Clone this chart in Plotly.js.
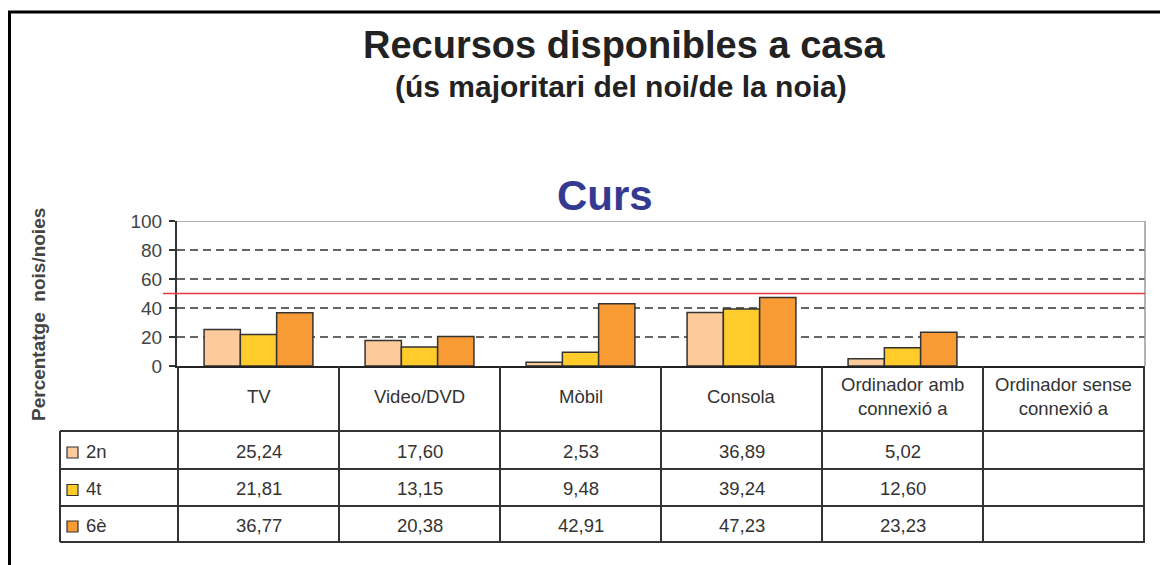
<!DOCTYPE html>
<html>
<head>
<meta charset="utf-8">
<script src="https://cdn.plot.ly/plotly-3.0.1.min.js"></script>
<style>
html,body{margin:0;padding:0;background:#fff;}
#chart{width:1160px;height:565px;}
</style>
</head>
<body>
<div id="chart"></div>
<script>
// ---- data ----
const categories = ["TV", "Video/DVD", "Mòbil", "Consola", "Ordinador amb<br>connexió a", "Ordinador sense<br>connexió a"];
const seriesNames = ["2n", "4t", "6è"];
const values2n = [25.24, 17.60, 2.53, 36.89, 5.02, null];
const values4t = [21.81, 13.15, 9.48, 39.24, 12.60, null];
const values6e = [36.77, 20.38, 42.91, 47.23, 23.23, null];
const yTicks = [0, 20, 40, 60, 80, 100];
const gridVals = [20, 40, 60, 80];
const refLine = 50;
const titleText = "Recursos disponibles a casa";
const subtitleText = "(ús majoritari del noi/de la noia)";
const chartTitle = "Curs";
const yTitle = "Percentatge&nbsp;&nbsp;nois/noies";

const seriesValues = [values2n, values4t, values6e];
const colors = ["#FDCB9B", "#FFCC2B", "#F89B34"];

// ---- geometry helpers (pixel -> paper) ----
const W = 1160, H = 565;
const mL = 177, mR = 15, mT = 221, mB = 199;
const pw = W - mL - mR, ph = H - mT - mB;
const px = x => (x - mL) / pw;
const py = y => (H - mB - y) / ph;

const traces = seriesNames.map((n, i) => ({
  type: "bar",
  name: n,
  x: categories,
  y: seriesValues[i],
  marker: {color: colors[i], line: {color: "#333", width: 1.5}},
  hoverinfo: "x+y+name"
}));

const shapes = [];
const annotations = [];
const lineCol = "#333";

// dashed grid
gridVals.forEach(v => shapes.push({type: "line", xref: "paper", yref: "y", x0: 0, x1: 1, y0: v, y1: v,
  line: {color: "#333", width: 1.5, dash: "8px,5px"}, layer: "below"}));
// plot top & right border (gray)
shapes.push({type: "line", xref: "paper", yref: "y", x0: 0, x1: 1, y0: 100, y1: 100, line: {color: "#999", width: 1.5}});
shapes.push({type: "line", xref: "paper", yref: "y", x0: 1, x1: 1, y0: 0, y1: 100, line: {color: "#999", width: 1.5}});
// red reference line
shapes.push({type: "line", xref: "paper", yref: "y", x0: px(163), x1: 1, y0: refLine, y1: refLine, line: {color: "#E8393F", width: 1.5}});

// table
const rowY = [366, 431, 469, 506, 542];
[431, 469, 506, 542].forEach(y => shapes.push({type: "line", xref: "paper", yref: "paper",
  x0: px(60), x1: 1, y0: py(y), y1: py(y), line: {color: lineCol, width: 2}}));
shapes.push({type: "line", xref: "paper", yref: "paper", x0: px(60), x1: px(60), y0: py(431), y1: py(542), line: {color: lineCol, width: 2}});
for (let i = 0; i <= categories.length; i++) {
  shapes.push({type: "line", xref: "x", yref: "paper", x0: i - 0.5, x1: i - 0.5, y0: py(366), y1: py(542), line: {color: lineCol, width: 2}});
}
// frame of the whole picture (left and top)
shapes.push({type: "line", xref: "paper", yref: "paper", x0: px(9.5), x1: px(9.5), y0: py(11), y1: py(570), line: {color: "#000", width: 3}});
shapes.push({type: "line", xref: "paper", yref: "paper", x0: px(8), x1: px(1170), y0: py(12), y1: py(12), line: {color: "#000", width: 3}});

const tblFont = {family: "Liberation Sans, Arial, sans-serif", size: 18.5, color: "#333"};
// header labels
categories.forEach((c, i) => annotations.push({xref: "x", yref: "paper", x: i, y: py(396), text: c,
  showarrow: false, font: tblFont, align: "center", xanchor: "center", yanchor: "middle"}));
// row legend + values
seriesNames.forEach((n, s) => {
  const yc = (rowY[s + 1] + rowY[s + 2]) / 2;
  shapes.push({type: "rect", xref: "paper", yref: "paper", x0: px(67), x1: px(78), y0: py(yc - 3), y1: py(yc + 8),
    fillcolor: colors[s], line: {color: "#333", width: 1.2}});
  annotations.push({xref: "paper", yref: "paper", x: px(84), y: py(yc + 1), text: n, showarrow: false,
    font: tblFont, xanchor: "left", yanchor: "middle"});
  seriesValues[s].forEach((v, i) => {
    if (v === null) return;
    annotations.push({xref: "x", yref: "paper", x: i, y: py(yc + 1), text: v.toFixed(2).replace(".", ","),
      showarrow: false, font: tblFont, xanchor: "center", yanchor: "middle"});
  });
});

// titles
annotations.push({xref: "paper", yref: "paper", x: px(624), y: py(45), text: "<b>" + titleText + "</b>", showarrow: false,
  font: {family: "Liberation Sans, Arial, sans-serif", size: 38, color: "#222"}, xanchor: "center", yanchor: "middle"});
annotations.push({xref: "paper", yref: "paper", x: px(621), y: py(86), text: "<b>" + subtitleText + "</b>", showarrow: false,
  font: {family: "Liberation Sans, Arial, sans-serif", size: 30, color: "#222"}, xanchor: "center", yanchor: "middle"});
annotations.push({xref: "paper", yref: "paper", x: px(605), y: py(195), text: "<b>" + chartTitle + "</b>", showarrow: false,
  font: {family: "Liberation Sans, Arial, sans-serif", size: 42, color: "#343991"}, xanchor: "center", yanchor: "middle"});
annotations.push({xref: "paper", yref: "paper", x: px(38), y: py(315), text: "<b>" + yTitle + "</b>", showarrow: false, textangle: -90,
  font: {family: "Liberation Sans, Arial, sans-serif", size: 19, color: "#444"}, xanchor: "center", yanchor: "middle"});

const layout = {
  width: W, height: H,
  margin: {l: mL, r: mR, t: mT, b: mB, pad: 0},
  paper_bgcolor: "#fff", plot_bgcolor: "#fff",
  showlegend: false,
  barmode: "group",
  bargap: 0.324,
  bargroupgap: 0,
  font: {family: "Liberation Sans, Arial, sans-serif", color: "#333"},
  xaxis: {type: "category", showticklabels: false, ticks: "", showgrid: false, zeroline: false,
    showline: true, linecolor: "#222", linewidth: 2, fixedrange: true},
  yaxis: {range: [0, 100], tickvals: yTicks, ticks: "outside", ticklen: 6, tickwidth: 1.5, tickcolor: "#333",
    showgrid: false, zeroline: false, showline: true, linecolor: "#333", linewidth: 2,
    tickfont: {size: 19, color: "#444"}, ticklabelstandoff: 3, fixedrange: true},
  shapes: shapes,
  annotations: annotations
};

Plotly.newPlot("chart", traces, layout, {displayModeBar: false, staticPlot: true});
</script>
</body>
</html>
